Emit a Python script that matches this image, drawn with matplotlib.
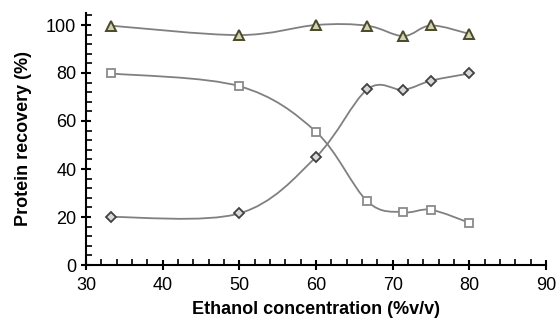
import numpy as np
import matplotlib
matplotlib.use('Agg')
from matplotlib import pyplot as plt
from matplotlib.path import Path
from matplotlib.patches import PathPatch
from matplotlib.ticker import MultipleLocator

plt.rcParams['font.family'] = ['Liberation Sans', 'DejaVu Sans']

# ethanol concentration (%v/v)
ethanol = [33.3, 50, 60, 66.7, 71.4, 75, 80]
# protein recovery (%)
total = [99.7, 95.8, 100, 99.7, 95.4, 99.8, 96.3]
supernatant = [79.8, 74.5, 55.5, 26.5, 22.0, 23.0, 17.6]
precipitate = [20.0, 21.5, 45.0, 73.2, 73.0, 76.8, 79.8]


def smooth_path(x, y):
    # Excel-like smoothed line (Catmull-Rom through the points)
    p = np.column_stack([x, y]).astype(float)
    n = len(p)
    verts = [p[0]]
    codes = [Path.MOVETO]
    for i in range(n - 1):
        p0 = p[i - 1] if i > 0 else p[i]
        p3 = p[i + 2] if i + 2 < n else p[i + 1]
        c1 = p[i] + (p[i + 1] - p0) / 6
        c2 = p[i + 1] - (p3 - p[i]) / 6
        verts += [c1, c2, p[i + 1]]
        codes += [Path.CURVE4] * 3
    return Path(verts, codes)


fig = plt.figure(figsize=(5.57, 3.2), dpi=100)
ax = fig.add_axes([86 / 557, 1 - 265 / 320, 460 / 557, 252 / 320])

line_col = '#808080'
for ys in (total, supernatant, precipitate):
    ax.add_patch(PathPatch(smooth_path(ethanol, ys), facecolor='none',
                           edgecolor=line_col, lw=1.3, zorder=2))

ax.plot(ethanol, total, ls='none', marker='^', ms=6.5, mfc='#d2d2b4',
        mec='#4a4a2a', mew=1.4, zorder=3)
ax.plot(ethanol, supernatant, ls='none', marker='s', ms=5.5, mfc='white',
        mec='#8a8a8a', mew=1.3, zorder=3)
ax.plot(ethanol, precipitate, ls='none', marker='D', ms=5, mfc='#d8d8d8',
        mec='#404040', mew=1.3, zorder=3)

ax.set_xlim(30, 90)
ax.set_ylim(0, 105)
ax.xaxis.set_major_locator(MultipleLocator(10))
ax.xaxis.set_minor_locator(MultipleLocator(2))
ax.yaxis.set_major_locator(MultipleLocator(20))
ax.yaxis.set_minor_locator(MultipleLocator(4))
ax.tick_params(which='major', direction='inout', length=7, width=1.5,
               labelsize=13, colors='black')
ax.tick_params(axis='x', which='major', pad=5)
ax.tick_params(which='minor', direction='in', length=4, width=1.2)
ax.spines['top'].set_visible(False)
ax.spines['right'].set_visible(False)
ax.spines['left'].set_linewidth(1.5)
ax.spines['bottom'].set_linewidth(1.5)

ax.set_xlabel('Ethanol concentration (%v/v)', fontsize=13,
              fontweight='bold', labelpad=5)
ax.set_ylabel('Protein recovery (%)', fontsize=13, fontweight='bold',
              labelpad=10)

fig.savefig('out.png', dpi=100)
